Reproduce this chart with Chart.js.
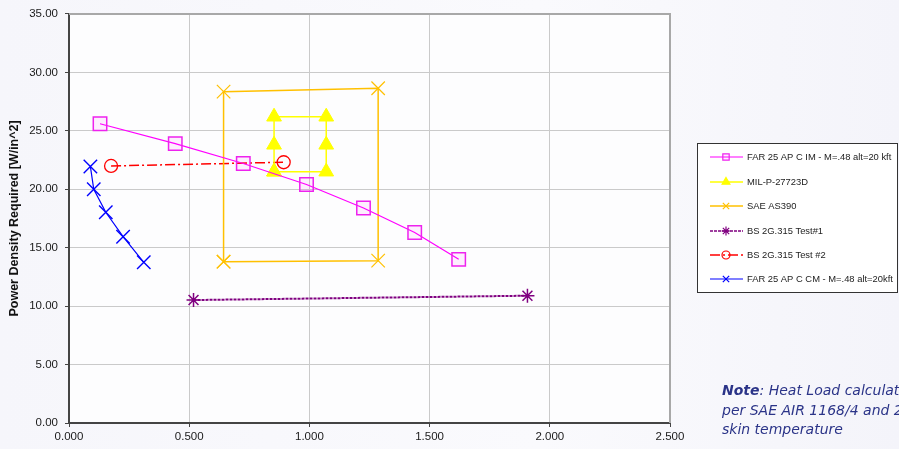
<!DOCTYPE html>
<html>
<head>
<meta charset="utf-8">
<script src="https://cdn.jsdelivr.net/npm/chart.js@4.4.0/dist/chart.umd.min.js"></script>
<style>
  html, body { margin: 0; padding: 0; overflow: hidden; }
  body { width: 899px; height: 449px; background: linear-gradient(90deg, #f6f6fb 0%, #fafafd 60%, #f4f4fa 100%); position: relative; }
  #wrap { position: absolute; left: 0; top: 0; width: 899px; height: 449px; }
  #note { position: absolute; left: 722px; top: 381px; font-family: "DejaVu Sans", sans-serif; font-style: italic; font-size: 14px; line-height: 19.5px; color: #2b3488; white-space: nowrap; }
</style>
</head>
<body>
<div id="wrap"><canvas id="myChart" width="899" height="449"></canvas></div>
<div id="note"><b>Note</b>: Heat Load calculated<br>per SAE AIR 1168/4 and 2<br>skin temperature</div>
<script>
// series
const imX = [0.129, 0.442, 0.725, 0.988, 1.225, 1.438, 1.621];
const imY = [25.6, 23.9, 22.2, 20.4, 18.4, 16.3, 14.0];
const milX = [0.853, 0.853, 0.853, 1.070, 1.070, 1.070, 0.853];
const milY = [21.5, 23.8, 26.2, 26.2, 23.8, 21.5, 21.5];
const saeX = [0.643, 0.643, 1.286, 1.286, 0.643];
const saeY = [13.8, 28.35, 28.64, 13.89, 13.8];
const bs1X = [0.518, 1.907];
const bs1Y = [10.52, 10.89];
const bs2X = [0.175, 0.893];
const bs2Y = [21.99, 22.31];
const cmX = [0.089, 0.103, 0.153, 0.225, 0.311];
const cmY = [21.94, 20.0, 18.03, 15.94, 13.75];

const labels = [
  'FAR 25 AP C IM - M=.48 alt=20 kft',
  'MIL-P-27723D',
  'SAE AS390',
  'BS 2G.315 Test#1',
  'BS 2G.315 Test #2',
  'FAR 25 AP C CM - M=.48 alt=20kft'
];

function pts(xs, ys) {
  return xs.map(function (x, i) { return { x: x, y: ys[i] }; });
}

let datasets = [
  { label: labels[0], data: pts(imX, imY), borderColor: '#ff00ff', borderWidth: 1.2,
    pointStyle: 'rect', pointRadius: 9.5, pointBorderColor: '#ee22ee', pointBackgroundColor: 'rgba(255,0,255,0.06)', pointBorderWidth: 1.5,
    legendRadius: 4.5 },
  { label: labels[1], data: pts(milX, milY), borderColor: '#ffff00', borderWidth: 1.5,
    pointStyle: 'triangle', pointRadius: 8.5, pointBorderColor: '#ffff00', pointBackgroundColor: '#ffff00', pointBorderWidth: 1,
    legendRadius: 4.5 },
  { label: labels[2], data: pts(saeX, saeY), borderColor: '#ffc000', borderWidth: 1.5,
    pointStyle: 'crossRot', pointRadius: 9.5, pointBorderColor: '#ffc000', pointBorderWidth: 1.2,
    legendRadius: 4.5 },
  { label: labels[3], data: pts(bs1X, bs1Y), borderColor: '#800080', borderWidth: 2, borderDash: [3, 1],
    pointStyle: 'star', pointRadius: 7, pointBorderColor: '#800080', pointBorderWidth: 1.5,
    legendRadius: 4.5 },
  { label: labels[4], data: pts(bs2X, bs2Y), borderColor: '#ff0000', borderWidth: 1.5, borderDash: [10, 3, 2, 3],
    pointStyle: 'circle', pointRadius: 6.5, pointBorderColor: '#ff0000', pointBackgroundColor: 'rgba(255,255,255,0)', pointBorderWidth: 1.3,
    legendRadius: 4 },
  { label: labels[5], data: pts(cmX, cmY), borderColor: '#0000ff', borderWidth: 1.2,
    pointStyle: 'crossRot', pointRadius: 9.5, pointBorderColor: '#0000ff', pointBorderWidth: 1.4,
    legendRadius: 4.5 }
];
datasets.forEach(function (d) { d.showLine = true; d.fill = false; d.tension = 0; });

// plot frame: white area, gray top/right border
const frame = {
  id: 'frame',
  beforeDraw: function (chart) {
    const a = chart.chartArea, c = chart.ctx;
    c.save();
    c.fillStyle = '#fdfdfe';
    c.fillRect(a.left, a.top, a.right - a.left, a.bottom - a.top);
    c.restore();
  },
  afterDatasetsDraw: function (chart) {
    const a = chart.chartArea, c = chart.ctx;
    c.save();
    c.strokeStyle = '#a8a8a8';
    c.lineWidth = 2;
    c.beginPath();
    c.moveTo(a.left, a.top);
    c.lineTo(a.right, a.top);
    c.lineTo(a.right, a.bottom);
    c.stroke();
    c.restore();
  }
};

// legend box on the right, drawn from the datasets
const sideLegend = {
  id: 'sideLegend',
  afterDraw: function (chart) {
    const c = chart.ctx;
    const bx = 697, by = 143, bw = 201, bh = 150;
    const rows = [157, 182, 206, 231, 255, 279];
    c.save();
    c.fillStyle = '#ffffff';
    c.fillRect(bx, by, bw, bh);
    c.strokeStyle = '#333333';
    c.lineWidth = 1;
    c.strokeRect(bx + 0.5, by + 0.5, bw - 1, bh - 1);
    chart.data.datasets.forEach(function (d, i) {
      const y = rows[i];
      c.strokeStyle = d.borderColor;
      c.lineWidth = Math.min(d.borderWidth, 1.5);
      c.setLineDash(d.borderDash || []);
      c.beginPath();
      c.moveTo(710, y);
      c.lineTo(743, y);
      c.stroke();
      c.setLineDash([]);
      c.strokeStyle = d.pointBorderColor;
      c.fillStyle = d.pointBackgroundColor || d.pointBorderColor;
      c.lineWidth = 1.2;
      Chart.helpers.drawPoint(c, { pointStyle: d.pointStyle, radius: d.legendRadius, rotation: 0, borderWidth: 1.2 }, 726, y);
      c.fillStyle = '#222222';
      c.font = '9.4px "Liberation Sans", Arial, sans-serif';
      c.textBaseline = 'middle';
      c.fillText(d.label, 747, y + 0.5);
    });
    c.restore();
  }
};

const tickFont = { family: '"Liberation Sans", Arial, sans-serif', size: 11.5 };

new Chart(document.getElementById('myChart'), {
  type: 'scatter',
  data: { datasets: datasets },
  options: {
    responsive: false,
    animation: false,
    layout: { padding: { top: 13, right: 229, bottom: 0, left: 0 } },
    plugins: { legend: { display: false }, tooltip: { enabled: false } },
    scales: {
      x: {
        type: 'linear', min: 0, max: 2.5,
        afterFit: function (s) { s.height = 26; },
        ticks: { stepSize: 0.5, color: '#1a1a1a', font: tickFont, padding: 3, maxRotation: 0,
          callback: function (v) { return v.toFixed(3); } },
        grid: { color: '#cacaca', lineWidth: 1, tickLength: 4, tickColor: '#444' },
        border: { color: '#444', width: 2 }
      },
      y: {
        type: 'linear', min: 0, max: 35,
        afterFit: function (s) { s.width = 69; },
        ticks: { stepSize: 5, color: '#1a1a1a', font: tickFont, padding: 7,
          callback: function (v) { return v.toFixed(2); } },
        grid: { color: '#cacaca', lineWidth: 1, tickLength: 4, tickColor: '#444' },
        border: { color: '#444', width: 2 },
        title: { display: true, text: 'Power Density Required [W/in^2]', color: '#111',
          font: { family: '"Liberation Sans", Arial, sans-serif', size: 12.5, weight: 'bold' }, padding: { top: 7, bottom: 0 } }
      }
    }
  },
  plugins: [frame, sideLegend]
});
</script>
</body>
</html>
